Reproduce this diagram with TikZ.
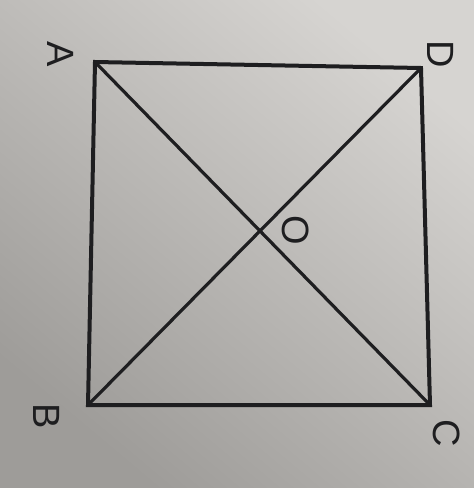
\documentclass[tikz,border=0pt]{standalone}
\usepackage{fontspec}
\setmainfont{Liberation Sans}
\definecolor{paperlight}{RGB}{214,212,209}
\definecolor{paperdark}{RGB}{158,156,153}
\definecolor{ink}{RGB}{30,30,32}
\begin{document}
\begin{tikzpicture}[x=1pt,y=-1pt,
  edge/.style={draw=ink,line width=4pt,line join=miter},
  diag/.style={draw=ink,line width=3.2pt},
  lab/.style={text=ink,font=\fontsize{38}{38}\selectfont,rotate=-90,inner sep=0pt}]
\useasboundingbox (0,0) rectangle (474,488);
\shade[top color=paperlight,bottom color=paperdark,shading angle=-40] (0,0) rectangle (474,488);
\coordinate (A) at (95,62);
\coordinate (D) at (421,68);
\coordinate (C) at (430,405);
\coordinate (B) at (88,405);
\draw[edge] (A) -- (D) -- (C) -- (B) -- cycle;
\draw[diag] (A) -- (C);
\draw[diag] (D) -- (B);
\node[lab] (lA) at (61,54) {A};
\node[lab] (lD) at (441,54) {D};
\node[lab] (lB) at (47,416) {B};
\node[lab] (lC) at (447,433) {C};
\node[lab] (lO) at (296,230) {O};
\end{tikzpicture}
\end{document}
